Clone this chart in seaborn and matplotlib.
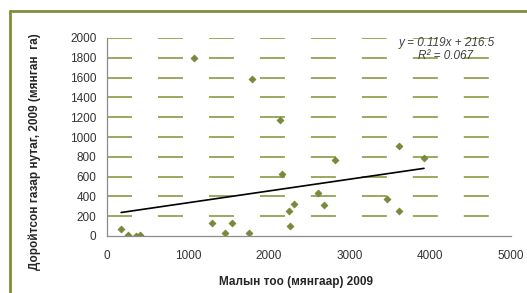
import matplotlib
matplotlib.use('Agg')
import matplotlib.pyplot as plt
import pandas as pd
import seaborn as sns
from matplotlib.lines import Line2D

# livestock count (thousand heads) vs degraded land (thousand ha), 2009
livestock = [175, 256, 359, 408, 1303, 1456, 1551, 1754, 1081, 1791, 2145,
             2166, 2257, 2269, 2318, 2611, 2682, 2826, 3465, 3618, 3618, 3923]
degraded = [70, 13, 0, 13, 131, 27, 131, 30, 1801, 1582, 1168,
            623, 249, 104, 327, 434, 313, 764, 370, 909, 256, 791]

# linear trend reported on the chart
slope = 0.119
intercept = 216.5
r2 = 0.067

x_ticks = [0, 1000, 2000, 3000, 4000, 5000]
y_ticks = [0, 200, 400, 600, 800, 1000, 1200, 1400, 1600, 1800, 2000]

sns.set_style('white')
plt.rcParams['font.family'] = ['Liberation Sans', 'DejaVu Sans']
plt.rcParams['lines.scale_dashes'] = False

df = pd.DataFrame({'x': livestock, 'y': degraded})
trend = pd.DataFrame({'x': [min(livestock), max(livestock)]})
trend['y'] = slope * trend['x'] + intercept

fig = plt.figure(figsize=(5.27, 2.93), dpi=100)
ax = fig.add_axes([107 / 527, 1 - 236 / 293, 404 / 527, 198 / 293])

olive = '#8a9a44'
ax.set_yticks(y_ticks)
ax.set_xticks(x_ticks)
ax.grid(axis='y', color=olive, linewidth=1.2, linestyle=(0, (18, 18.7)))
ax.set_axisbelow(True)

sns.scatterplot(data=df, x='x', y='y', ax=ax, marker='D', s=12, color='#77893a',
                edgecolor='#77893a', linewidth=0.6, zorder=3, legend=False)
sns.lineplot(data=trend, x='x', y='y', ax=ax, color='black', linewidth=1.2, zorder=4)

ax.set_xlim(0, 5000)
ax.set_ylim(0, 2000)

# no gridline on the x axis itself
ax.get_ygridlines()[0].set_visible(False)

for side in ['top', 'right']:
    ax.spines[side].set_visible(False)
for side in ['left', 'bottom']:
    ax.spines[side].set_color('#8c8c8c')
    ax.spines[side].set_linewidth(0.9)
    ax.spines[side].set_zorder(5)

ax.tick_params(axis='y', direction='out', length=2.5, width=0.8, color='#8c8c8c',
               pad=5, labelsize=8.5, labelcolor='#333333')
ax.tick_params(axis='x', direction='in', length=2.5, width=0.8, color='#8c8c8c',
               pad=10, labelsize=8.5, labelcolor='#333333')

ax.set_xlabel('Малын тоо (мянгаар) 2009', fontsize=8.5, fontweight='bold',
              color='#262626', va='center')
ax.set_ylabel('Доройтсон газар нутаг, 2009 (мянган  га)', fontsize=8.5,
              fontweight='bold', color='#262626', va='center')
ax.xaxis.set_label_coords((296 - 107) / 404, -(282 - 236) / 198)
ax.yaxis.set_label_coords(-(107 - 35) / 404, (236 - 152) / 198)

ax.text(4208, 1949, f'y = {slope}x + {intercept}', fontsize=8.5, style='italic',
        ha='center', va='center', color='#404040')
ax.text(4190, 1818, f'R² = {r2}', fontsize=8.5, style='italic',
        ha='center', va='center', color='#404040')

# olive frame around the chart, clipped at right and bottom
frame = '#818d3b'
fig.add_artist(Line2D([10 / 527, 1.0], [1 - 11 / 293, 1 - 11 / 293],
                      color=frame, linewidth=2, transform=fig.transFigure))
fig.add_artist(Line2D([10 / 527, 10 / 527], [0.0, 1 - 11 / 293],
                      color=frame, linewidth=2, transform=fig.transFigure))

fig.savefig('out.png', dpi=100)
